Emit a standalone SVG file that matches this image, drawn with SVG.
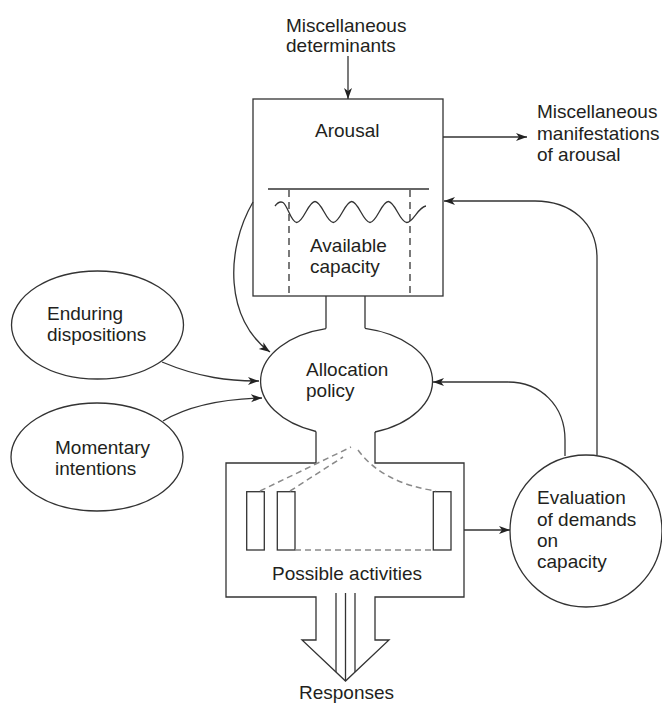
<svg xmlns="http://www.w3.org/2000/svg" width="662" height="711" viewBox="0 0 662 711">
<defs>
<style>
text{font-family:"Liberation Sans",Arial,sans-serif;font-size:19px;fill:#231f20}
.ln{fill:none;stroke:#333;stroke-width:1.3}
.dk{fill:none;stroke:#333;stroke-width:1.3;stroke-dasharray:7 5}
.gd{fill:none;stroke:#8a8a8a;stroke-width:1.5;stroke-dasharray:6 4}
.con{fill:none;stroke:#333;stroke-width:1.3;marker-end:url(#ah)}
</style>
<marker id="ah" markerUnits="userSpaceOnUse" markerWidth="12" markerHeight="9" refX="11" refY="4" orient="auto">
<path d="M0,0 L11,4 L0,8 L3,4 z" fill="#222"/>
</marker>
</defs>
<rect width="662" height="711" fill="#fff"/>

<g id="misc-determinants">
<text x="286" y="31.5">Miscellaneous</text>
<text x="286" y="52">determinants</text>
</g>

<g id="arousal">
<rect class="ln" x="253" y="99" width="190" height="197"/>
<line class="ln" x1="268" y1="189" x2="429" y2="189"/>
<line class="dk" x1="289" y1="190" x2="289" y2="296"/>
<line class="dk" x1="410" y1="190" x2="410" y2="296"/>
<path class="ln" d="M275,206 C278,202 281,201.5 283,202.5 C288,206 291,222.5 296.7,222.5 C303.4,222.5 308.3,201.5 315,201.5 C321.7,201.5 326.6,222.5 333.3,222.5 C340,222.5 345,201.5 351.7,201.5 C358.4,201.5 363.3,222.5 370,222.5 C376.7,222.5 381.6,201.5 388.3,201.5 C395,201.5 400,222.5 406.7,222.5 C413.4,222.5 418,207 426,206"/>
<text x="315" y="137">Arousal</text>
<text x="310" y="252">Available</text>
<text x="310" y="273">capacity</text>
</g>

<g id="misc-manifestations">
<text x="537" y="118">Miscellaneous</text>
<text x="537" y="139.5">manifestations</text>
<text x="537" y="160.5">of arousal</text>
</g>

<g id="allocation">
<line class="ln" x1="326" y1="296" x2="326" y2="328.6"/>
<line class="ln" x1="365" y1="296" x2="365" y2="328.3"/>
<path class="ln" d="M326,328.6 A86,54 0 0 0 316,431.5"/>
<path class="ln" d="M365,328.3 A86,54 0 0 1 375,432"/>
<text x="306" y="376">Allocation</text>
<text x="306" y="397">policy</text>
</g>

<g id="activities">
<path class="ln" d="M316,431.5 L316,463 L226,463 L226,597 L316,597 L316,640 L302,640 L345.5,681 L389,640 L375,640 L375,597 L464,597 L464,463 L375,463 L375,432"/>
<line class="ln" x1="336" y1="593" x2="336" y2="672"/>
<line class="ln" x1="345.5" y1="593" x2="345.5" y2="681"/>
<line class="ln" x1="355" y1="593" x2="355" y2="672"/>
<rect class="ln" x="246.7" y="491.7" width="17.6" height="58.3"/>
<rect class="ln" x="277.3" y="491.7" width="17.7" height="58.3"/>
<rect class="ln" x="433.3" y="491.7" width="17.7" height="58.3"/>
<path class="gd" d="M260,491 L351,447"/>
<path class="gd" d="M290,491 L343,457"/>
<path class="gd" d="M358,450 Q382,483 436,491"/>
<path class="gd" d="M295,550 L433,550"/>
<text x="272" y="580">Possible activities</text>
</g>

<g id="responses">
<text x="299" y="699">Responses</text>
</g>

<g id="enduring">
<ellipse class="ln" cx="97.5" cy="325" rx="86" ry="54"/>
<text x="47" y="320">Enduring</text>
<text x="47" y="341">dispositions</text>
</g>

<g id="momentary">
<ellipse class="ln" cx="97" cy="457" rx="86" ry="54"/>
<text x="55" y="454">Momentary</text>
<text x="55" y="475">intentions</text>
</g>

<g id="evaluation">
<circle class="ln" cx="586" cy="531" r="76"/>
<text x="537" y="504">Evaluation</text>
<text x="537" y="526">of demands</text>
<text x="537" y="547">on</text>
<text x="537" y="568">capacity</text>
</g>

<g id="connectors">
<path class="con" d="M348,56 L348,99"/>
<path class="con" d="M443,137 L527,137"/>
<path class="con" d="M597,455 L597,258 C597,222 570,201 535,201 L444,201"/>
<path class="con" d="M565,456 L565,440 C565,405 540,382 508,382 L433,382"/>
<path class="con" d="M464,530 L510,530"/>
<path class="con" d="M162,362 C200,378 230,381 259,381"/>
<path class="con" d="M163,421 C190,405 225,399 262,398"/>
<path class="con" d="M253,202 C225,250 225,320 270,352"/>
</g>
</svg>
